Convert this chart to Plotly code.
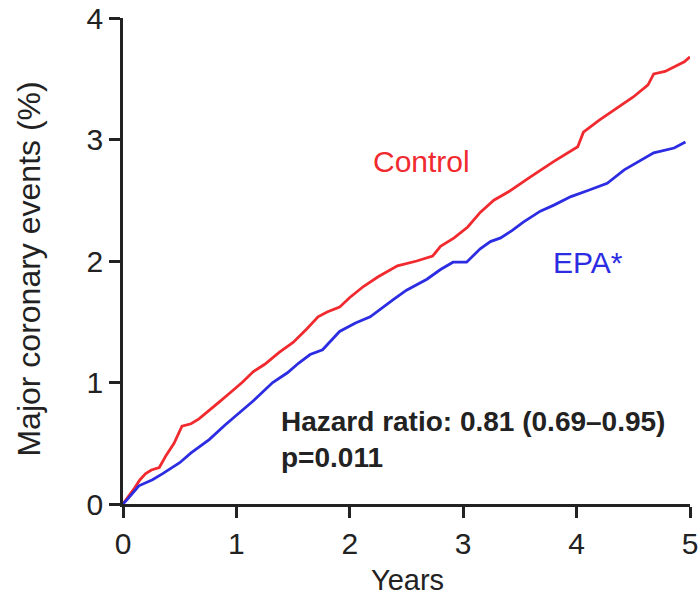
import plotly.graph_objects as go

# Control (red) cumulative events, %
control_t = [0, 0.05, 0.1, 0.15, 0.2, 0.25, 0.32, 0.38, 0.45, 0.52, 0.6, 0.67, 0.75, 0.85, 0.95, 1.05, 1.15, 1.25, 1.38, 1.5, 1.62, 1.72, 1.8, 1.91, 2.0, 2.12, 2.25, 2.42, 2.59, 2.73, 2.8, 2.92, 3.04, 3.15, 3.27, 3.4, 3.59, 3.8, 4.01, 4.06, 4.2, 4.33, 4.5, 4.63, 4.68, 4.78, 4.86, 4.95, 5.0]
control_v = [0, 0.06, 0.13, 0.2, 0.25, 0.28, 0.30, 0.40, 0.50, 0.64, 0.66, 0.70, 0.76, 0.84, 0.92, 1.00, 1.09, 1.15, 1.25, 1.33, 1.44, 1.54, 1.58, 1.62, 1.70, 1.79, 1.87, 1.96, 2.00, 2.04, 2.12, 2.19, 2.28, 2.40, 2.50, 2.57, 2.69, 2.82, 2.94, 3.06, 3.16, 3.24, 3.35, 3.45, 3.54, 3.56, 3.60, 3.64, 3.68]

# EPA (blue)
epa_t = [0, 0.05, 0.14, 0.26, 0.35, 0.5, 0.6, 0.76, 0.9, 1.03, 1.15, 1.32, 1.45, 1.55, 1.65, 1.76, 1.91, 2.05, 2.18, 2.38, 2.5, 2.68, 2.8, 2.91, 3.03, 3.15, 3.24, 3.33, 3.43, 3.53, 3.68, 3.8, 3.95, 4.1, 4.27, 4.42, 4.55, 4.68, 4.86, 4.96]
epa_v = [0, 0.05, 0.15, 0.20, 0.25, 0.34, 0.42, 0.53, 0.65, 0.75, 0.85, 1.0, 1.08, 1.16, 1.23, 1.27, 1.42, 1.49, 1.54, 1.68, 1.76, 1.85, 1.93, 1.99, 1.99, 2.10, 2.16, 2.19, 2.25, 2.32, 2.41, 2.46, 2.53, 2.58, 2.64, 2.75, 2.82, 2.89, 2.93, 2.98]

x_ticks = [0, 1, 2, 3, 4, 5]
y_ticks = [0, 1, 2, 3, 4]

RED = "#f02a2e"
BLUE = "#2c2ce2"
INK = "#222222"
FONT = "Liberation Sans, Arial, sans-serif"

fig = go.Figure()
fig.add_trace(go.Scatter(x=control_t, y=control_v, mode="lines",
                         line=dict(color=RED, width=2.8), showlegend=False))
fig.add_trace(go.Scatter(x=epa_t, y=epa_v, mode="lines",
                         line=dict(color=BLUE, width=2.8), showlegend=False))

fig.add_annotation(x=2.628, y=2.815, text="Control", showarrow=False,
                   font=dict(family=FONT, size=30, color=RED))
fig.add_annotation(x=4.10, y=1.99, text="EPA*", showarrow=False,
                   font=dict(family=FONT, size=30, color=BLUE))
fig.add_annotation(x=1.376, y=0.68, text="<b>Hazard ratio: 0.81 (0.69–0.95)</b>",
                   showarrow=False, xanchor="left",
                   font=dict(family=FONT, size=28, color=INK))
fig.add_annotation(x=1.376, y=0.38, text="<b>p=0.011</b>",
                   showarrow=False, xanchor="left",
                   font=dict(family=FONT, size=28, color=INK))

# axis titles
fig.add_annotation(xref="paper", yref="paper", x=-0.1675, y=0.4825,
                   xanchor="center", yanchor="middle",
                   text="Major coronary events (%)", textangle=-90, showarrow=False,
                   font=dict(family=FONT, size=32, color=INK))
fig.add_annotation(xref="paper", yref="paper", x=0.5009, y=-0.156,
                   xanchor="center", yanchor="middle",
                   text="Years", showarrow=False,
                   font=dict(family=FONT, size=29, color=INK))

axis_common = dict(showline=True, linecolor=INK, linewidth=2.5,
                   ticks="outside", ticklen=11, tickwidth=2.5, tickcolor=INK,
                   showgrid=False, zeroline=False, automargin=False,
                   tickfont=dict(family=FONT, size=30, color=INK))

fig.update_xaxes(range=[0, 5], tickvals=x_ticks, ticktext=[str(v) for v in x_ticks],
                 **axis_common)
fig.update_yaxes(range=[0, 4], tickvals=y_ticks, ticktext=[str(v) for v in y_ticks],
                 **axis_common)

fig.update_layout(width=699, height=595,
                  margin=dict(l=123, r=9, t=18, b=91),
                  plot_bgcolor="white", paper_bgcolor="white")

fig.write_html("out.html")
